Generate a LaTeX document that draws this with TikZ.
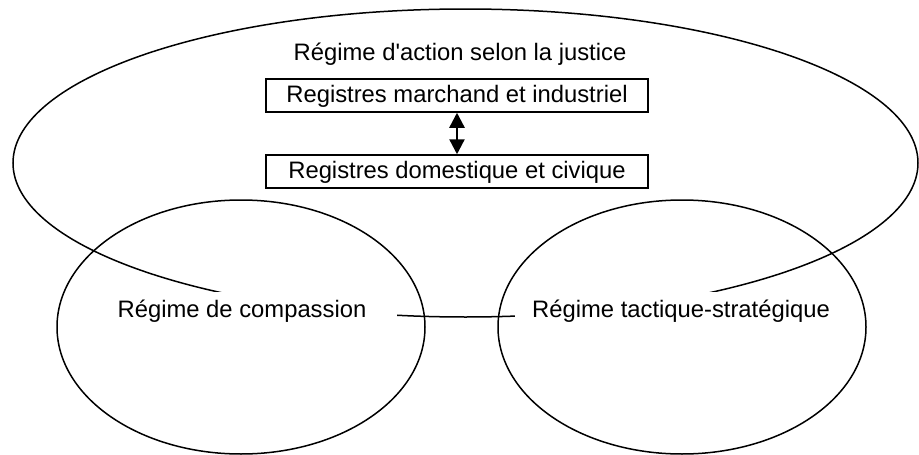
\documentclass[tikz,border=0pt]{standalone}
\usepackage{fontspec}
\setmainfont{Liberation Sans}[Ligatures=TeXOff]
\usetikzlibrary{arrows.meta}
\begin{document}
\begin{tikzpicture}[x=1pt,y=-1pt,
  every node/.style={font=\fontsize{23.8}{28}\selectfont},
  outline/.style={draw=black,line width=1.5pt},
  regbox/.style={draw=black,line width=1.5pt,inner sep=0pt,minimum width=382pt,
                 anchor=base,text height=23.5pt,text depth=9.5pt},
  regime/.style={fill=white,inner sep=0pt,anchor=base,text height=25pt,text depth=14pt},
  link/.style={{Triangle[length=15pt,width=15pt]}-{Triangle[length=15pt,width=15pt]},line width=2.4pt}]
  % page frame
  \useasboundingbox[fill=white] (0,0) rectangle (919,455);
  % the two lower regimes
  \draw[outline] (241,327) ellipse [x radius=184, y radius=127];
  \draw[outline] (682,327) ellipse [x radius=184, y radius=127];
  % justice regime, drawn across both
  \draw[outline] (465.5,163) ellipse [x radius=452.5, y radius=154];
  % labels
  \node (just) at (460,60) [anchor=base] {Régime d'action selon la justice};
  \node[regbox] (merc) at (457,102.5) {Registres marchand et industriel};
  \node[regbox] (dom) at (457,178.5) {Registres domestique et civique};
  \draw[link] (merc.south) -- (dom.north);
  \node[regime,minimum width=310pt] (comp) at (242,317) {Régime de compassion};
  \node[regime,minimum width=332pt] (tact) at (681,317) {Régime tactique-stratégique};
\end{tikzpicture}
\end{document}
